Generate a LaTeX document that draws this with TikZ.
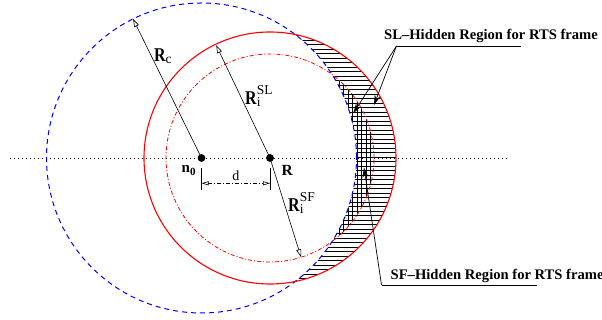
\documentclass[tikz,border=0pt]{standalone}
\usepackage{fontspec}
\setmainfont{Liberation Serif}
\usepackage{tikz}
\usetikzlibrary{arrows.meta,positioning}
\definecolor{carrier}{HTML}{0000FF}
\definecolor{interf}{HTML}{FF0000}

\newcommand{\radR}{\scalebox{0.82}[1]{\fontsize{19.5}{19.5}\selectfont\bfseries R}}
\newcommand{\sml}[1]{{\fontsize{13.5}{13.5}\selectfont #1}}
\newcommand{\rsub}[2]{\radR\rlap{\raisebox{-1.5pt}{\sml{#1}}}\raisebox{10.5pt}{\sml{#2}}}

\begin{document}
\begin{tikzpicture}[x=1pt,y=1pt,
    dot/.style={circle,fill=black,inner sep=0pt,minimum size=7.5pt},
    radarrow/.style={-{Triangle[open,length=8pt,width=5pt]},line width=0.6pt},
    lead/.style={-{Stealth[length=10pt,width=6pt]},line width=0.7pt},
    hatch/.style={line width=0.65pt},
    hidden/.style={font=\fontsize{14.6}{17}\selectfont\bfseries,anchor=base west,inner sep=0pt}]
  \useasboundingbox (0,0) rectangle (602,320);

  \node[dot] (n0) at (201.5,162) {};
  \node[dot] (r) at (270,162) {};

  % hatched regions
  \begin{scope}
    \clip (r.center) circle[radius=126];
    \begin{scope}[even odd rule]
      \clip (0,0) rectangle (602,320) (n0.center) circle[radius=155];
      \foreach \y in {28,32.5,...,296} \draw[hatch] (280,\y) -- (410,\y);
    \end{scope}
  \end{scope}
  \begin{scope}
    \clip (r.center) circle[radius=104];
    \begin{scope}[even odd rule]
      \clip (0,0) rectangle (602,320) (n0.center) circle[radius=155];
      \foreach \x in {321,325.5,...,385} \draw[hatch] (\x,60) -- (\x,260);
    \end{scope}
  \end{scope}

  \draw[line width=0.8pt,dash pattern=on 1pt off 3pt] (10,162) -- (509,162);
  \draw[carrier,line width=1pt,dash pattern=on 5pt off 4pt] (n0.center) circle[radius=155];
  \draw[interf,line width=1.1pt] (r.center) circle[radius=126];
  \draw[interf,line width=0.8pt,dash pattern=on 4pt off 2pt on 1pt off 2pt] (r.center) circle[radius=104];
  \node[dot] at (n0) {};
  \node[dot] at (r) {};

  % radii
  \coordinate (rctip) at ([shift={(116.2:155)}]n0.center);
  \coordinate (sltip) at ([shift={(115.5:125)}]r.center);
  \coordinate (sftip) at ([shift={(-72.6:104)}]r.center);
  \draw[radarrow] (n0.center) -- (rctip);
  \draw[radarrow] (r.center) -- (sltip);
  \draw[radarrow] (r.center) -- (sftip);
  \node[anchor=base west,inner sep=0pt] (rc) at (154,258.3) {\rsub{c}{}};
  \node[anchor=base west,inner sep=0pt] (rsl) at (245,215) {\rsub{i}{SL}};
  \node[anchor=base west,inner sep=0pt] (rsf) at (288,108) {\rsub{i}{SF}};
  \node[anchor=base west,inner sep=0pt] (ln0) at (181.5,147) {\fontsize{15}{15}\selectfont\bfseries n\raisebox{-3pt}{\fontsize{11}{11}\selectfont 0}};
  \node[anchor=base west,inner sep=0pt] (lr) at (281.5,144) {\fontsize{15.5}{15.5}\selectfont\bfseries R};

  % distance d
  \coordinate (da) at (201.5,130);
  \coordinate (db) at (270,130);
  \draw[line width=0.6pt] (da) -- ++(0,22);
  \draw[line width=0.6pt] (db) -- ++(0,22);
  \draw[{Triangle[open,length=7pt,width=4pt]}-{Triangle[open,length=7pt,width=4pt]},line width=0.6pt,
        dash pattern=on 4pt off 2pt on 1pt off 2pt] ([yshift=6.7pt]da) -- ([yshift=6.7pt]db)
        node[midway,above,inner sep=2pt,font=\fontsize{14}{14}\selectfont] (dl) {d};

  % hidden region labels
  \node[hidden] (sl) at (384,280.5) {SL--Hidden Region for RTS frame};
  \coordinate (slfoot) at (396.5,274);
  \coordinate (slend) at (521,274);
  \draw[line width=0.7pt] (slfoot) -- (slend);
  \draw[lead] (slfoot) -- (353.3,206.7);
  \draw[lead] (slfoot) -- (374,215);

  \node[hidden] (sf) at (390.5,40.5) {SF--Hidden Region for RTS frame};
  \coordinate (sffoot) at (381.5,35);
  \coordinate (sfend) at (537,35);
  \coordinate (sftarget) at (364,152.5);
  \draw[line width=0.7pt] (sfend) -- (sffoot);
  \draw[lead] (sffoot) -- (sftarget);
\end{tikzpicture}
\end{document}
